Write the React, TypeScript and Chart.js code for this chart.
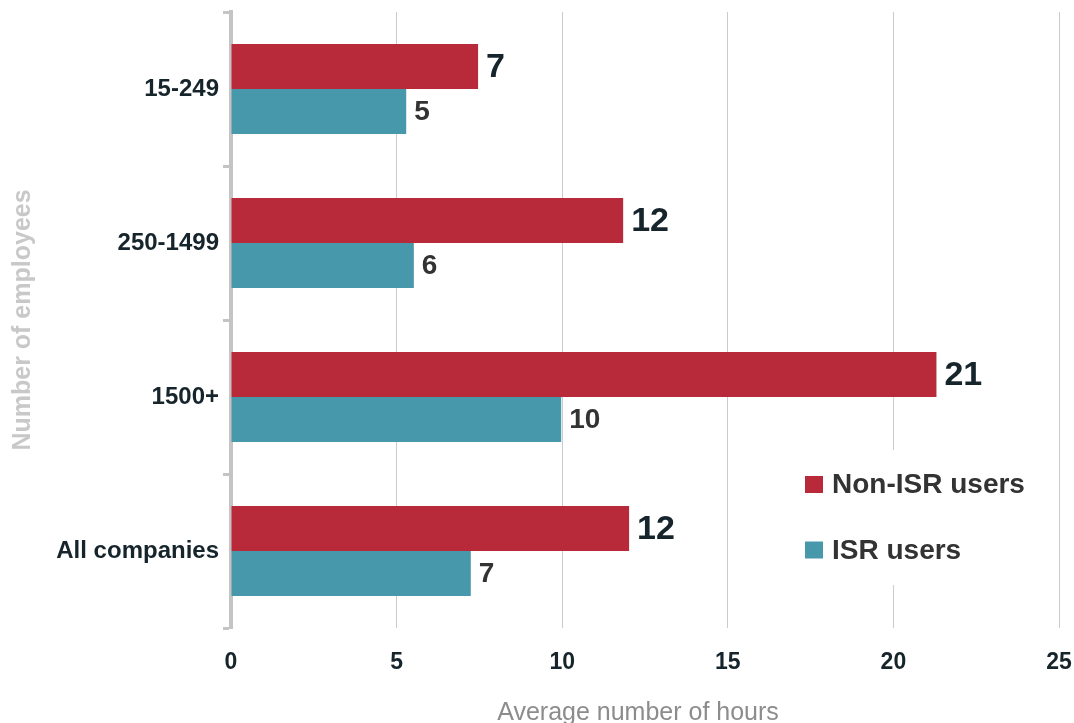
import React, { useEffect, useRef } from 'react';
import { Chart, registerables } from 'chart.js';

Chart.register(...registerables);

const categories = ['15-249', '250-1499', '1500+', 'All companies'];
const nonIsrHours = [7.46, 11.84, 21.3, 12.02];
const isrHours = [5.29, 5.52, 9.97, 7.24];
const seriesNames = ['Non-ISR users', 'ISR users'];
const xTickValues = [0, 5, 10, 15, 20, 25];
const xTitle = 'Average number of hours';
const yTitle = 'Number of employees';

const FONT = "'Liberation Sans', Arial, Helvetica, sans-serif";
const RED = '#b82a3a';
const TEAL = '#4898ab';
const DARK = '#16242b';

const valueLabels = {
  id: 'valueLabels',
  afterDatasetsDraw(chart: any) {
    const ctx = chart.ctx;
    chart.data.datasets.forEach((ds: any, di: number) => {
      const meta = chart.getDatasetMeta(di);
      meta.data.forEach((bar: any, i: number) => {
        const v = ds.data[i];
        ctx.save();
        ctx.font = di === 0 ? `bold 34px ${FONT}` : `bold 28px ${FONT}`;
        ctx.fillStyle = di === 0 ? DARK : '#333333';
        ctx.textAlign = 'left';
        ctx.textBaseline = 'middle';
        ctx.fillText(String(Math.round(v)), bar.x + 8, bar.y + 1);
        ctx.restore();
      });
    });
  },
};

const legendBox = {
  id: 'legendBox',
  afterDraw(chart: any) {
    const { ctx, chartArea } = chart;
    const sx = chartArea.right - 254;
    const sy = chartArea.bottom - 152;
    ctx.save();
    ctx.fillStyle = '#ffffff';
    ctx.fillRect(sx - 10, sy - 26, 250, 135);
    chart.data.datasets.forEach((ds: any, i: number) => {
      const y = sy + i * 65.5;
      ctx.fillStyle = ds.backgroundColor;
      ctx.fillRect(sx, y, 18, 17);
      ctx.fillStyle = '#333333';
      ctx.font = `bold 28px ${FONT}`;
      ctx.textAlign = 'left';
      ctx.textBaseline = 'alphabetic';
      ctx.fillText(ds.label, sx + 27, y + 17);
    });
    // x axis title
    ctx.fillStyle = '#8c8c8c';
    ctx.font = `normal 25px ${FONT}`;
    ctx.textAlign = 'center';
    ctx.textBaseline = 'middle';
    ctx.fillText(xTitle, (chartArea.left + chartArea.right) / 2 - 7, chart.height - 10);
    ctx.restore();
  },
};

export default function App() {
  const ref = useRef<HTMLCanvasElement | null>(null);

  useEffect(() => {
    if (!ref.current) return;
    const chart = new Chart(ref.current, {
      type: 'bar',
      data: {
        labels: categories,
        datasets: [
          {
            label: seriesNames[0],
            data: nonIsrHours,
            backgroundColor: RED,
            barPercentage: 1,
            categoryPercentage: 0.584,
          },
          {
            label: seriesNames[1],
            data: isrHours,
            backgroundColor: TEAL,
            barPercentage: 1,
            categoryPercentage: 0.584,
          },
        ],
      },
      options: {
        indexAxis: 'y',
        animation: false,
        responsive: false,
        devicePixelRatio: 1,
        layout: { padding: { left: 0, right: 15, top: 12, bottom: 0 } },
        plugins: {
          legend: { display: false },
          tooltip: { enabled: false },
        },
        scales: {
          x: {
            type: 'linear',
            min: 0,
            max: 25,
            afterBuildTicks: (s: any) => {
              s.ticks = xTickValues.map((v) => ({ value: v }));
            },
            afterFit: (s: any) => {
              s.height = 95;
              s.paddingLeft = 0;
              s.paddingRight = 0;
            },
            grid: { color: '#cccccc', lineWidth: 1, drawTicks: false },
            border: { display: false },
            ticks: {
              color: DARK,
              font: { family: FONT, size: 23, weight: 'bold' },
              padding: 21,
            },
            title: { display: false },
          },
          y: {
            type: 'category',
            offset: true,
            z: 1,
            afterFit: (s: any) => {
              s.width = 231;
              s.paddingTop = 0;
              s.paddingBottom = 0;
            },
            grid: {
              offset: true,
              drawOnChartArea: false,
              drawTicks: true,
              tickLength: 8,
              tickWidth: 3,
              tickColor: '#c4c4c4',
              color: '#c4c4c4',
            },
            border: { display: true, color: '#c4c4c4', width: 4 },
            ticks: {
              color: DARK,
              font: { family: FONT, size: 24, weight: 'bold' },
              padding: 4,
            },
            title: {
              display: true,
              text: yTitle,
              color: '#c8c8c8',
              font: { family: FONT, size: 25, weight: 'bold', lineHeight: 1 },
              padding: { top: 11, bottom: 0 },
            },
          },
        },
      },
      plugins: [valueLabels, legendBox],
    } as any);
    return () => chart.destroy();
  }, []);

  return (
    <div style={{ position: 'absolute', left: 0, top: 0, width: 1074, height: 723, background: '#ffffff' }}>
      <canvas ref={ref} width={1074} height={723} style={{ display: 'block' }} />
    </div>
  );
}
